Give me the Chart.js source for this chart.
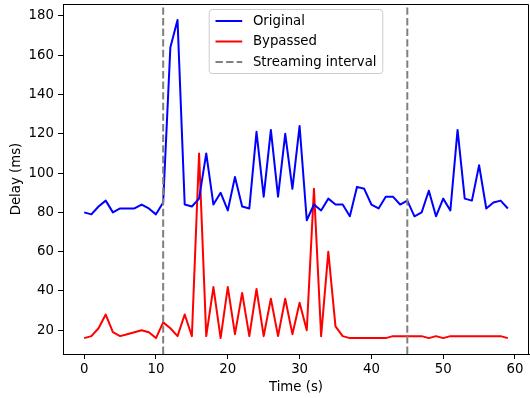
<!DOCTYPE html>
<html>
<head>
<meta charset="utf-8">
<script src="https://cdn.jsdelivr.net/npm/chart.js@4.4.1/dist/chart.umd.min.js"></script>
<style>
  html, body { margin: 0; padding: 0; background: #fff; }
  #wrap { width: 530px; height: 398px; }
</style>
</head>
<body>
<div id="wrap"><canvas id="delayChart"></canvas></div>
<script>
const times = [0, 1, 2, 3, 4, 5, 6, 7, 8, 9, 10, 11, 12, 13, 14, 15, 16, 17, 18, 19,
  20, 21, 22, 23, 24, 25, 26, 27, 28, 29, 30, 31, 32, 33, 34, 35, 36, 37, 38, 39,
  40, 41, 42, 43, 44, 45, 46, 47, 48, 49, 50, 51, 52, 53, 54, 55, 56, 57, 58, 59];
const original = [80, 79, 83, 86, 80, 82, 82, 82, 84, 82, 79, 85, 164, 178, 84, 83, 87, 110, 84, 90,
  81, 98, 83, 82, 121, 88, 122, 88, 120, 92, 124, 76, 84, 81, 87, 84, 84, 78, 93, 92,
  84, 82, 88, 88, 84, 86, 78, 80, 91, 78, 87, 81, 122, 87, 86, 104, 82, 85, 86, 82];
const bypassed = [16, 17, 21, 28, 19, 17, 18, 19, 20, 19, 16, 24, 21, 17, 28, 17, 110, 17, 42, 16,
  42, 18, 39, 17, 41, 17, 36, 17, 36, 18, 34, 20, 92, 17, 60, 22, 17, 16, 16, 16,
  16, 16, 16, 17, 17, 17, 17, 17, 16, 17, 16, 17, 17, 17, 17, 17, 17, 17, 17, 16];
const streamEdges = [11, 45];
const xTicks = [0, 10, 20, 30, 40, 50, 60];
const yTicks = [20, 40, 60, 80, 100, 120, 140, 160, 180];

const FONT = 'DejaVu Sans';
const FS = 13.3;

const toPoints = (ys) => ys.map((y, i) => ({ x: times[i], y }));

// vertical dashed lines + top/right spines
const streamPlugin = {
  id: 'streamLines',
  afterDatasetsDraw(chart) {
    const { ctx, chartArea, scales } = chart;
    const ds = chart.data.datasets[2];
    ctx.save();
    ctx.strokeStyle = ds.borderColor;
    ctx.lineWidth = ds.borderWidth;
    ctx.setLineDash(ds.borderDash);
    streamEdges.forEach((t) => {
      const px = scales.x.getPixelForValue(t);
      ctx.beginPath();
      ctx.moveTo(px, chartArea.bottom);
      ctx.lineTo(px, chartArea.top);
      ctx.stroke();
    });
    ctx.setLineDash([]);
    ctx.strokeStyle = '#000';
    ctx.lineWidth = 1;
    ctx.beginPath();
    ctx.moveTo(chartArea.left, chartArea.top + 0.5);
    ctx.lineTo(chartArea.right - 0.5, chartArea.top + 0.5);
    ctx.lineTo(chartArea.right - 0.5, chartArea.bottom);
    ctx.stroke();
    ctx.restore();
  },
};

// matplotlib-like legend inside the axes, upper center
const legendPlugin = {
  id: 'innerLegend',
  afterDraw(chart) {
    const { ctx, chartArea } = chart;
    const sets = chart.data.datasets;
    ctx.save();
    ctx.font = FS + 'px "' + FONT + '"';
    const maxW = Math.max(...sets.map((d) => ctx.measureText(d.label).width));
    const pad = 5.3, handle = 26.7, gap = 10.7, pitch = 20.5;
    const w = pad + handle + gap + maxW + pad + 2;
    const h = 64;
    const x0 = (chartArea.left + chartArea.right) / 2 - w / 2;
    const y0 = chartArea.top + 5.5;
    ctx.fillStyle = 'rgba(255,255,255,0.8)';
    ctx.strokeStyle = '#cccccc';
    ctx.lineWidth = 1;
    ctx.beginPath();
    ctx.roundRect(x0, y0, w, h, 3);
    ctx.fill();
    ctx.stroke();
    sets.forEach((d, i) => {
      const cy = y0 + 11.5 + i * pitch;
      ctx.strokeStyle = d.borderColor;
      ctx.lineWidth = d.borderWidth;
      ctx.setLineDash(d.borderDash || []);
      ctx.beginPath();
      ctx.moveTo(x0 + pad + 1, cy);
      ctx.lineTo(x0 + pad + 1 + handle, cy);
      ctx.stroke();
      ctx.setLineDash([]);
      ctx.fillStyle = '#000';
      ctx.textBaseline = 'middle';
      ctx.fillText(d.label, x0 + pad + 1 + handle + gap, cy + 0.5);
    });
    ctx.restore();
  },
};

new Chart(document.getElementById('delayChart'), {
  type: 'line',
  data: {
    datasets: [
      { label: 'Original', data: toPoints(original), borderColor: '#0000ff', borderWidth: 2 },
      { label: 'Bypassed', data: toPoints(bypassed), borderColor: '#ff0000', borderWidth: 2 },
      { label: 'Streaming interval', data: [], borderColor: '#808080', borderWidth: 2, borderDash: [7.4, 3.2] },
    ],
  },
  options: {
    responsive: true,
    maintainAspectRatio: false,
    animation: false,
    layout: { padding: { top: 4, right: 1, left: 0, bottom: 0 } },
    elements: {
      point: { radius: 0 },
      line: { tension: 0, borderJoinStyle: 'round', fill: false },
    },
    plugins: { legend: { display: false }, tooltip: { enabled: false } },
    scales: {
      x: {
        type: 'linear',
        min: -2.95,
        max: 61.95,
        afterBuildTicks: (s) => { s.ticks = xTicks.map((v) => ({ value: v })); },
        afterFit: (s) => { s.height = 44; s.paddingLeft = 0; s.paddingRight = 0; },
        grid: { drawOnChartArea: false, drawTicks: true, tickLength: 5, color: '#000', tickWidth: 1 },
        border: { display: true, color: '#000', width: 1 },
        ticks: { color: '#000', padding: 3, maxRotation: 0, font: { family: FONT, size: FS } },
        title: { display: true, text: 'Time (s)', color: '#000', padding: { top: 2, bottom: 2 }, font: { family: FONT, size: FS } },
      },
      y: {
        type: 'linear',
        min: 7.9,
        max: 186.1,
        afterBuildTicks: (s) => { s.ticks = yTicks.map((v) => ({ value: v })); },
        afterFit: (s) => { s.width = 63; s.paddingTop = 0; s.paddingBottom = 0; },
        grid: { drawOnChartArea: false, drawTicks: true, tickLength: 5, color: '#000', tickWidth: 1 },
        border: { display: true, color: '#000', width: 1 },
        ticks: { color: '#000', padding: 4, font: { family: FONT, size: FS } },
        title: { display: true, text: 'Delay (ms)', color: '#000', padding: { top: 9, bottom: 0 }, font: { family: FONT, size: FS } },
      },
    },
  },
  plugins: [streamPlugin, legendPlugin],
});
</script>
</body>
</html>
